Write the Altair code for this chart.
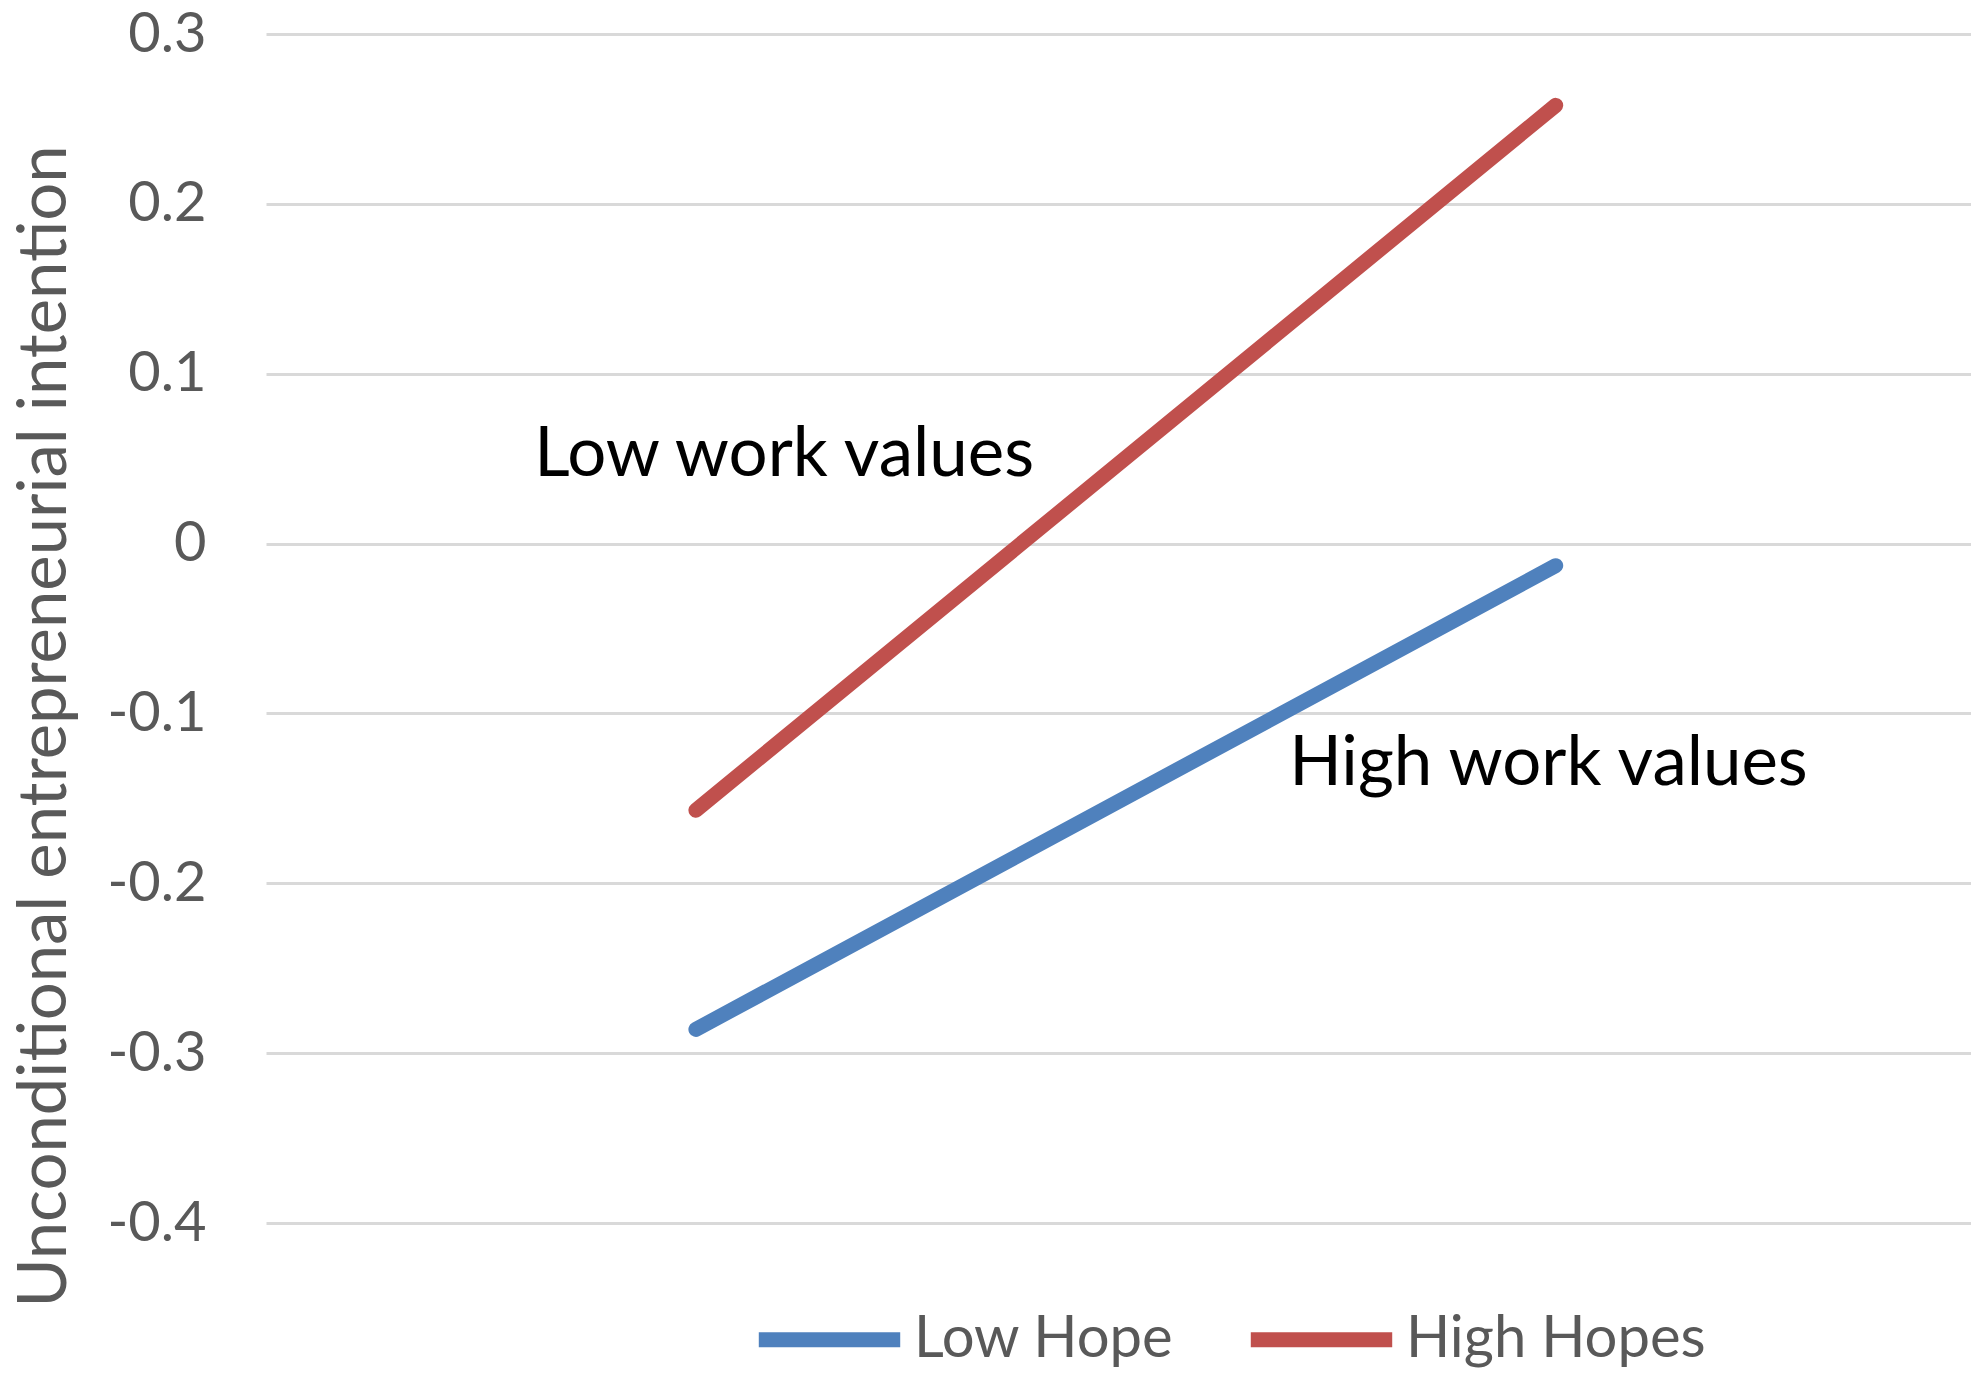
import altair as alt
import pandas as pd

# Data
x_positions = [1, 2]
series_names = ["Low Hope", "High Hopes"]
low_hope_values = [-0.286, -0.013]
high_hopes_values = [-0.157, 0.258]
y_ticks = [-0.4, -0.3, -0.2, -0.1, 0, 0.1, 0.2, 0.3]
series_colors = ["#4f81bd", "#c0504d"]

annotation_texts = ["Low work values", "High work values"]
annotation_x = [0.812, 1.69]
annotation_y = [0.052, -0.130]

rows = []
for xv, yv in zip(x_positions, low_hope_values):
    rows.append({"x": xv, "y": yv, "series": series_names[0]})
for xv, yv in zip(x_positions, high_hopes_values):
    rows.append({"x": xv, "y": yv, "series": series_names[1]})
df = pd.DataFrame(rows)
ann = pd.DataFrame({"text": annotation_texts, "x": annotation_x, "y": annotation_y})

FONT = "Lato"
FS = 56
FS_TITLE = 67
FS_ANN = 69
FS_LEG = 58

xscale = alt.Scale(domain=[0.5, 2.483], nice=False, zero=False)
yscale = alt.Scale(domain=[-0.4, 0.3], nice=False, zero=False)

y_axis = alt.Axis(
    values=y_ticks,
    labelExpr="toString(datum.value)",
    title="Unconditional entrepreneurial intention",
    titleFontSize=FS_TITLE,
    titleFont=FONT,
    titleFontWeight="normal",
    titleColor="#595959",
    titleAngle=270,
    titleX=-221,
    titleY=692,
    titleAlign="center",
    titleBaseline="middle",
    labelFont=FONT,
    labelFontSize=FS,
    labelColor="#595959",
    labelPadding=60,
    ticks=False,
    domain=False,
    grid=True,
    gridColor="#d9d9d9",
    gridWidth=3,
)

lines = alt.Chart(df).mark_line(strokeWidth=15, strokeCap="round").encode(
    x=alt.X("x:Q", scale=xscale, axis=None),
    y=alt.Y("y:Q", scale=yscale, axis=y_axis),
    color=alt.Color(
        "series:N",
        scale=alt.Scale(domain=series_names, range=series_colors),
        legend=alt.Legend(
            title=None,
            orient="none",
            direction="horizontal",
            legendX=485,
            legendY=1227,
            symbolType="stroke",
            symbolStrokeWidth=15,
            symbolSize=20000,
            labelFont=FONT,
            labelFontSize=FS_LEG,
            labelColor="#595959",
            labelOffset=6,
            labelLimit=1000,
            columnPadding=46,
        ),
    ),
    detail="series:N",
)

labels = alt.Chart(ann).mark_text(
    align="left", baseline="middle", font=FONT, fontSize=FS_ANN, color="black"
).encode(
    x=alt.X("x:Q", scale=xscale, axis=None),
    y=alt.Y("y:Q", scale=yscale, axis=y_axis),
    text="text:N",
)

chart = (
    alt.layer(lines, labels)
    .properties(
        width=1705,
        height=1189,
        background="white",
        autosize=alt.AutoSizeParams(type="none"),
        padding={"left": 258, "top": 26, "right": 0, "bottom": 150},
    )
    .configure_view(strokeWidth=0, stroke="transparent")
    .configure_axis(domain=False, ticks=False)
)

chart.save("out.html", embed_options={"renderer": "svg", "actions": False})
